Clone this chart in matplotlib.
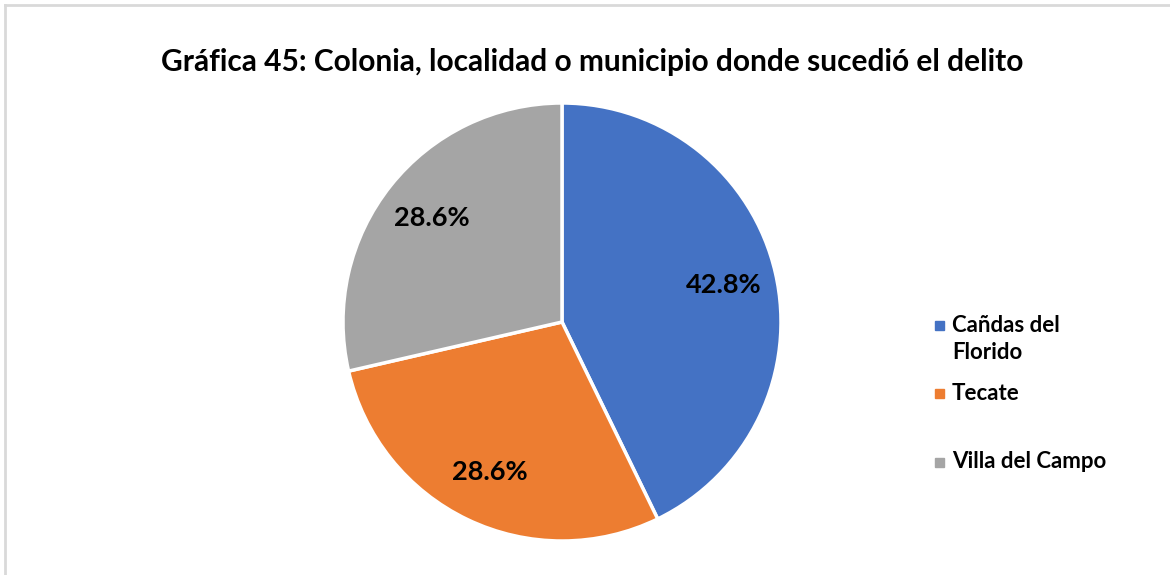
import matplotlib.pyplot as plt
from matplotlib.lines import Line2D
from matplotlib.patches import Rectangle

categorias = ["Cañdas del\nFlorido", "Tecate", "Villa del Campo"]
porcentajes = [42.8, 28.6, 28.6]
colores = ["#4472C4", "#ED7D31", "#A5A5A5"]
titulo = "Gráfica 45: Colonia, localidad o municipio donde sucedió el delito"

plt.rcParams['font.family'] = ['Lato', 'DejaVu Sans']

fig = plt.figure(figsize=(11.7, 5.75), dpi=100)
W, H = 1170, 575

# borde gris (solo arriba e izquierda, el resto queda recortado)
borde = dict(transform=fig.transFigure, color="#D9D9D9", linewidth=2)
fig.lines.append(Line2D([4.5 / W, 4.5 / W], [0, 1 - 4.5 / H], **borde))
fig.lines.append(Line2D([4.5 / W, 1], [1 - 4.5 / H, 1 - 4.5 / H], **borde))

ax = fig.add_axes([343 / W, (H - 541) / H, 438 / W, 438 / H])
wedges, textos, autotextos = ax.pie(
    porcentajes, colors=colores, startangle=90, counterclock=False,
    autopct='%.1f%%', pctdistance=0.76,
    wedgeprops=dict(edgecolor="white", linewidth=2.5),
    textprops=dict(fontsize=19.5, fontweight="bold", color="black"))
ax.set_xlim(-1, 1)
ax.set_ylim(-1, 1)
ax.set_aspect("equal")

fig.text(592 / W, 1 - 62 / H, titulo, ha="center", va="center",
         fontsize=21.5, fontweight="bold")

# leyenda manual (espaciado irregular como en el original)
leyenda_y = [325, 393, 462]
for nombre, color, y in zip(categorias, colores, leyenda_y):
    fig.patches.append(Rectangle((935 / W, 1 - (y + 4.5) / H), 9 / W, 9 / H,
                                 transform=fig.transFigure, color=color))
    n = nombre.count("\n")
    fig.text(952 / W, 1 - (y + n * 14) / H, nombre, ha="left", va="center",
             fontsize=16, fontweight="bold", linespacing=1.3)

fig.savefig("out.png", dpi=100)
